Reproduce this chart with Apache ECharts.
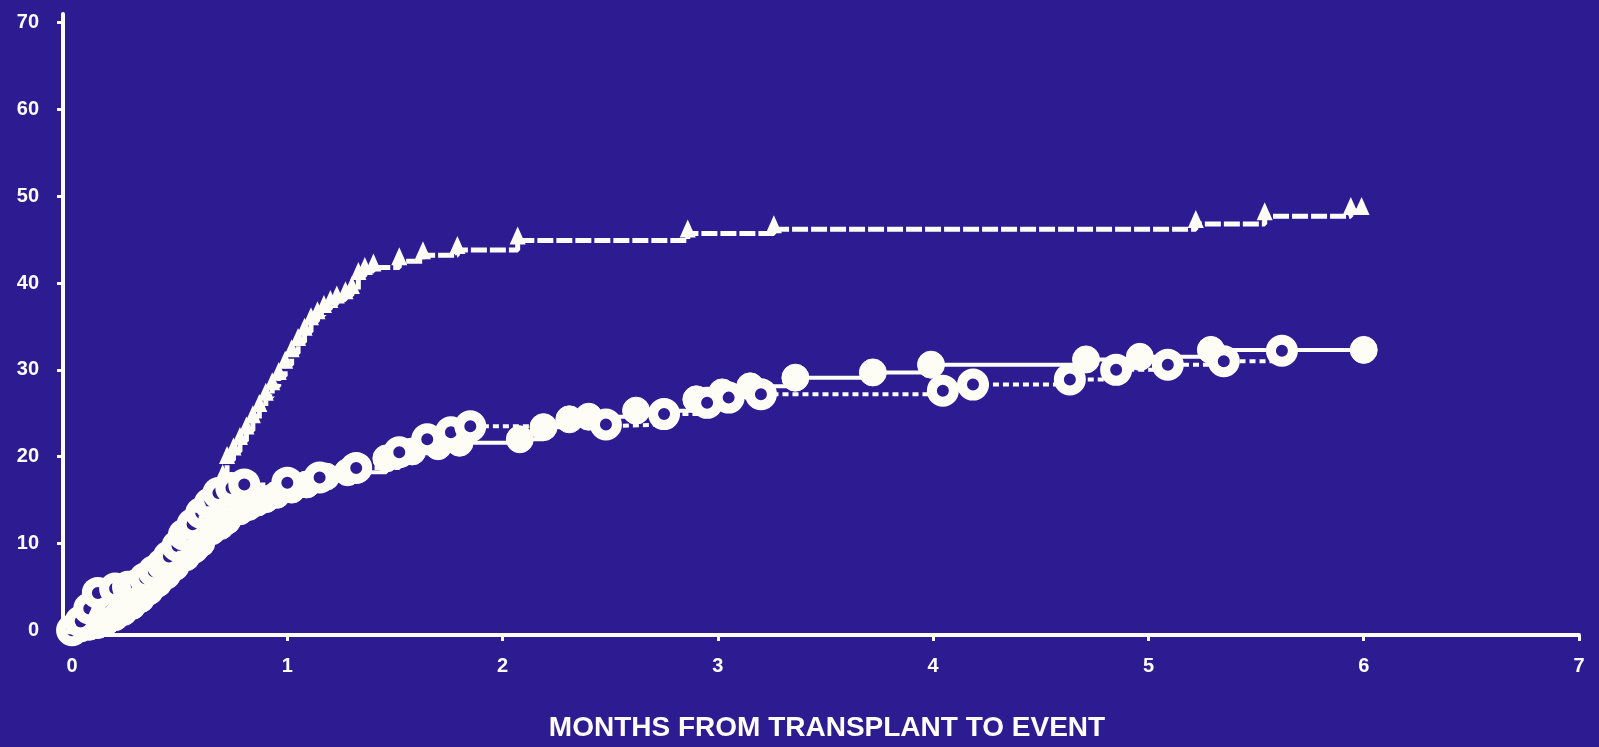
<!DOCTYPE html>
<html>
<head>
<meta charset="utf-8">
<script src="https://cdn.jsdelivr.net/npm/echarts@6/dist/echarts.min.js"></script>
<style>
html,body{margin:0;padding:0;background:#2d1c91;}
#chart{width:1599px;height:747px;}
</style>
</head>
<body>
<div id="chart"></div>
<script>
// ---- Data ----
const xTickValues = [0, 1, 2, 3, 4, 5, 6, 7];
const yTickValues = [0, 10, 20, 30, 40, 50, 60, 70];
const xAxisTitle = 'MONTHS FROM TRANSPLANT TO EVENT';

// Triangle series (upper curve)
const triX = [0, 0.1, 0.2, 0.3, 0.4, 0.5, 0.6, 0.7, 0.72, 0.75, 0.78, 0.81, 0.84, 0.87, 0.90, 0.93, 0.96, 0.99, 1.02, 1.05, 1.08, 1.11, 1.14, 1.17, 1.20, 1.23, 1.27, 1.30, 1.33, 1.36, 1.40, 1.52, 1.63, 1.79, 2.07, 2.86, 3.26, 5.22, 5.54, 5.94, 5.99];
const triY = [0, 1.5, 3, 4.5, 7, 10.5, 14, 17.5, 19.6, 20.6, 21.8, 23.0, 24.3, 25.6, 26.9, 28.1, 29.3, 30.6, 31.9, 33.2, 34.4, 35.6, 36.3, 37.0, 37.6, 38.1, 38.6, 39.2, 40.8, 41.4, 41.8, 42.5, 43.2, 43.8, 44.9, 45.7, 46.2, 46.8, 47.7, 48.3, 48.3];

// Filled-circle series (solid line)
const filledX = [0, 0.04, 0.08, 0.12, 0.16, 0.2, 0.24, 0.28, 0.32, 0.36, 0.4, 0.44, 0.48, 0.53, 0.57, 0.6, 0.65, 0.69, 0.72, 0.78, 0.82, 0.86, 0.9, 0.95, 1.02, 1.09, 1.18, 1.28, 1.46, 1.58, 1.7, 1.8, 2.08, 2.19, 2.31, 2.4, 2.62, 2.9, 3.02, 3.15, 3.36, 3.72, 3.99, 4.71, 4.96, 5.29, 6.0];
const filledY = [0, 0.2, 0.4, 0.6, 1.0, 1.5, 2.1, 2.8, 3.6, 4.5, 5.4, 6.3, 7.3, 8.4, 9.3, 10, 11.4, 12.0, 12.6, 13.7, 14.2, 14.7, 15.1, 15.6, 16.2, 16.8, 17.7, 18.2, 19.8, 20.6, 21.2, 21.6, 22.0, 23.4, 24.3, 24.6, 25.3, 26.6, 27.4, 28.1, 29.1, 29.7, 30.6, 31.2, 31.5, 32.3, 32.3];

// Open-circle series (dashed line)
const openX = [0, 0.04, 0.08, 0.12, 0.2, 0.26, 0.3, 0.34, 0.38, 0.42, 0.45, 0.49, 0.52, 0.56, 0.6, 0.64, 0.68, 0.74, 0.8, 1.0, 1.15, 1.32, 1.52, 1.65, 1.76, 1.85, 2.48, 2.75, 2.95, 3.05, 3.2, 4.045, 4.185, 4.635, 4.85, 5.09, 5.35, 5.62];
const openY = [0, 1.0, 2.5, 4.3, 4.8, 5.0, 5.2, 6.0, 6.8, 7.6, 8.5, 9.7, 11, 12.2, 13.5, 14.6, 15.8, 16.4, 16.8, 17.0, 17.6, 18.7, 20.5, 22.0, 22.8, 23.5, 23.7, 24.9, 26.2, 26.8, 27.2, 27.6, 28.3, 28.9, 30.0, 30.6, 31.0, 32.2];

const pairs = (xs, ys) => xs.map((x, i) => [x, ys[i]]);

const BG = '#2d1c91';
const WHITE = '#fdfdf6';
const labelFont = { color: WHITE, fontFamily: 'Liberation Sans, Arial, sans-serif', fontWeight: 'bold', fontSize: 20 };

const chart = echarts.init(document.getElementById('chart'), null, { renderer: 'canvas' });
chart.setOption({
  backgroundColor: BG,
  animation: false,
  grid: { left: 63, right: 20, top: 14, bottom: 108 },
  xAxis: {
    type: 'value',
    min: -0.042,
    max: 7,
    splitLine: { show: false },
    axisLine: { show: true, onZero: false, lineStyle: { color: WHITE, width: 4 } },
    axisTick: { show: true, length: 6, lineStyle: { color: WHITE, width: 3 }, customValues: xTickValues },
    axisLabel: Object.assign({ margin: 21, customValues: xTickValues }, labelFont),
    name: xAxisTitle,
    nameLocation: 'middle',
    nameGap: 79,
    nameTextStyle: { color: WHITE, fontFamily: 'Liberation Sans, Arial, sans-serif', fontWeight: 'bold', fontSize: 28, padding: [0, 0, 0, 12] }
  },
  yAxis: {
    type: 'value',
    min: -0.55,
    max: 71,
    splitLine: { show: false },
    axisLine: { show: true, onZero: false, lineStyle: { color: WHITE, width: 4 } },
    axisTick: { show: true, length: 6, lineStyle: { color: WHITE, width: 3 }, customValues: yTickValues },
    axisLabel: Object.assign({ margin: 24, customValues: yTickValues }, labelFont)
  },
  series: [
    {
      name: 'filled',
      type: 'line',
      step: 'end',
      data: pairs(filledX, filledY),
      showAllSymbol: true,
      symbol: 'circle',
      symbolSize: 27,
      itemStyle: { color: WHITE, borderColor: WHITE, borderWidth: 1 },
      lineStyle: { color: WHITE, width: 4 },
      z: 2
    },
    {
      name: 'open',
      type: 'line',
      step: 'end',
      data: pairs(openX, openY),
      showAllSymbol: true,
      symbol: 'circle',
      symbolSize: 22,
      itemStyle: { color: BG, borderColor: WHITE, borderWidth: 10 },
      lineStyle: { color: WHITE, width: 4, type: [6, 4] },
      z: 3
    },
    {
      name: 'triangle',
      type: 'line',
      step: 'end',
      data: pairs(triX, triY),
      showAllSymbol: true,
      symbol: 'triangle',
      symbolSize: [16, 18],
      symbolOffset: [0, -5],
      itemStyle: { color: WHITE },
      lineStyle: { color: WHITE, width: 5, type: [16, 3] },
      z: 4
    }
  ]
});
</script>
</body>
</html>
